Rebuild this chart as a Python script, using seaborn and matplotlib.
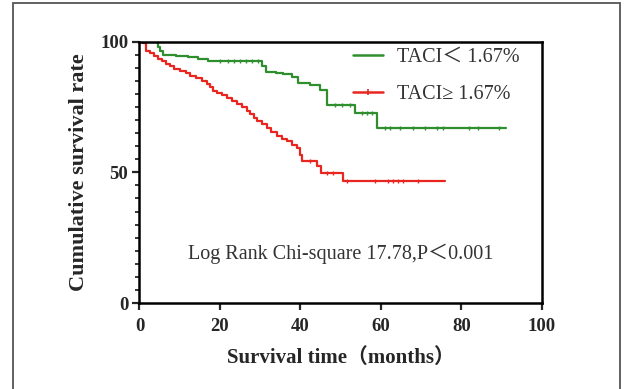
import numpy as np
import pandas as pd
import seaborn as sns
import matplotlib.pyplot as plt
from matplotlib.lines import Line2D
from matplotlib.patches import Rectangle
from matplotlib.ticker import MultipleLocator

# Kaplan-Meier step points (months, survival %)
green_time = [0, 4.5, 5.0, 5.8, 9.0, 12.0, 14.5, 17.0, 30.5, 31.5, 34.0, 35.7,
              38.0, 39.4, 42.4, 44.9, 46.6, 53.6, 59.1, 91.0]
green_surv = [100, 97.8, 96.5, 95.0, 94.5, 94.0, 93.3, 92.7, 90.8, 88.2, 88.0, 87.7,
              86.3, 84.3, 83.5, 81.5, 75.8, 72.8, 66.8, 66.8]
green_censor = [20, 22, 23.5, 25, 26.5, 28, 29.5, 48.6, 50.4, 52.4, 55.4, 56.6, 57.9,
                61, 62.3, 64.8, 68, 71, 74, 75.3, 81.8, 84, 89.3]

red_time = [0, 1.0, 1.6, 2.5, 3.5, 4.5, 5.5, 6.5, 7.5, 8.5, 10.0, 11.5, 12.5, 14.0,
            15.5, 16.7, 17.5, 18.2, 19.2, 20.5, 21.7, 23.0, 24.2, 25.5, 26.7, 27.5,
            28.5, 29.2, 30.5, 31.7, 32.8, 34.2, 35.5, 36.7, 38.0, 39.2, 39.8, 40.3,
            44.0, 45.0, 50.6, 76.0]
red_surv = [100, 99.3, 96.5, 95.5, 94.5, 93.5, 92.5, 91.5, 90.5, 89.6, 88.8, 88.0,
            87.0, 86.0, 85.0, 83.8, 82.5, 81.2, 80.5, 79.5, 78.6, 77.3, 76.0, 74.8,
            73.5, 72.2, 70.8, 69.6, 68.3, 67.0, 65.5, 63.8, 62.8, 61.9, 60.6, 59.3,
            56.8, 54.2, 52.3, 49.7, 46.6, 46.6]
red_censor = [42.4, 46.6, 48.1, 51.6, 58.6, 61.8, 63, 64.3, 65.6, 69.3]

labels = ["TACI\uff1c 1.67%", "TACI\u2265 1.67%"]
colors = ["#2f8f2f", "#e8261f"]
x_ticks = [0, 20, 40, 60, 80, 100]
y_ticks = [0, 50, 100]
note = "Log Rank Chi-square 17.78,P\uff1c0.001"


def step_value(times, surv, t):
    idx = np.searchsorted(times, t, side="right") - 1
    return np.asarray(surv)[idx]


sns.set_style("ticks")
plt.rcParams["font.family"] = ["Liberation Serif", "Noto Sans CJK SC", "DejaVu Sans"]

fig = plt.figure(figsize=(6.24, 3.89), dpi=100)
ax = fig.add_axes([0.2235, 0.221, 0.645, 0.672])

curves = [
    (green_time, green_surv, green_censor, colors[0]),
    (red_time, red_surv, red_censor, colors[1]),
]
for times, surv, cens, col in curves:
    df = pd.DataFrame({"t": times, "s": surv})
    sns.lineplot(data=df, x="t", y="s", ax=ax, color=col, lw=1.6,
                 drawstyle="steps-post", estimator=None, sort=False)
    cdf = pd.DataFrame({"t": cens, "s": step_value(times, surv, cens)})
    sns.scatterplot(data=cdf, x="t", y="s", ax=ax, color=col, marker="|",
                    s=8, linewidth=1.0, zorder=3)

ax.set_xlim(0, 100)
ax.set_ylim(0, 100)
ax.set_xticks(x_ticks)
ax.set_yticks(y_ticks)
ax.yaxis.set_minor_locator(MultipleLocator(5))
ax.tick_params(axis="both", which="major", length=5, width=1.6, direction="out",
               labelsize=13.5)
ax.tick_params(axis="x", which="major", pad=6)
ax.tick_params(axis="y", which="major", pad=3)
ax.tick_params(axis="y", which="minor", length=3, width=1.3, direction="out")
for lab in ax.get_xticklabels() + ax.get_yticklabels():
    lab.set_fontweight("bold")
for sp in ax.spines.values():
    sp.set_visible(True)
    sp.set_linewidth(1.8)
    sp.set_color("black")

ax.set_xlabel("Survival time\uff08months\uff09", fontsize=15, fontweight="bold", labelpad=9)
ax.set_ylabel("Cumulative survival rate", fontsize=16, fontweight="bold", labelpad=8)

handles = [Line2D([], [], color=colors[0], lw=1.8),
           Line2D([], [], color=colors[1], lw=1.8, marker="|", markersize=4,
                  markeredgewidth=1.2)]
ax.legend(handles, labels, loc="upper left", frameon=False, fontsize=14.5,
          handlelength=1.5, handletextpad=0.7, labelspacing=0.9, numpoints=1,
          borderpad=0, borderaxespad=0,
          bbox_to_anchor=(0.531, 0.975), labelcolor="#333333")

ax.text(0.499, 0.19, note, transform=ax.transAxes, ha="center", va="center",
        fontsize=14.5, color="#333333")

fig.patches.append(Rectangle((13 / 624, -0.1), (620 - 13) / 624, 1.1 - 3 / 389,
                             transform=fig.transFigure, fill=False,
                             edgecolor="#555555", lw=1.3))

fig.savefig("out.png", dpi=100)
